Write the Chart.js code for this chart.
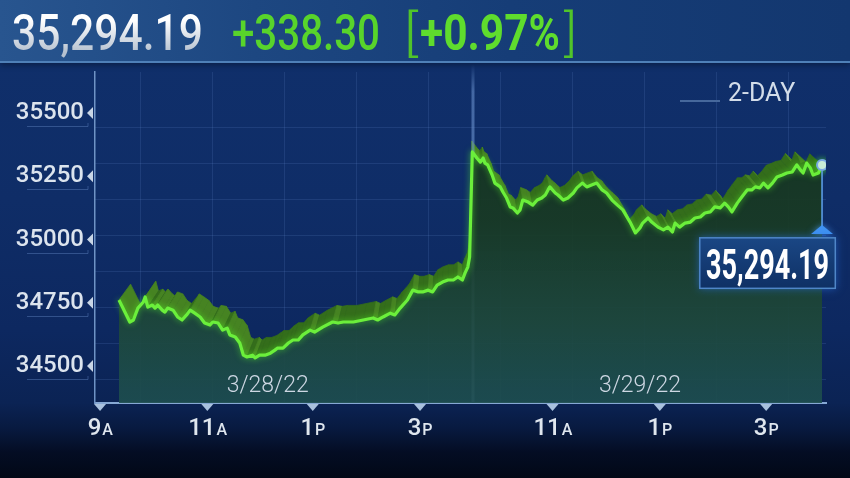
<!DOCTYPE html>
<html><head><meta charset="utf-8">
<script src="https://cdn.jsdelivr.net/npm/chart.js@4.4.1/dist/chart.umd.min.js"></script>
<style>
html,body{margin:0;padding:0;}
body{width:850px;height:478px;overflow:hidden;background:#020816;font-family:Roboto,"Noto Sans",sans-serif;}
#wrap{position:relative;width:850px;height:478px;overflow:hidden;
 background:linear-gradient(180deg,#10306c 0px,#0f2d67 200px,#0d2860 330px,#0b2354 403px,#081a40 428px,#040d24 452px,#020816 478px);}
#c{position:absolute;left:0;top:0;}
#head{position:absolute;left:0;top:0;width:850px;height:61px;z-index:2;
 background:linear-gradient(90deg,#28558f 0%,#1d4781 30%,#163d77 60%,#13376f 100%);
 border-bottom:2px solid #4f80b8;box-shadow:0 2px 6px rgba(0,0,0,0.35);}
.h{position:absolute;top:8px;font-size:50px;line-height:50px;white-space:nowrap;transform-origin:0 0;}
#price{font-weight:500;background:linear-gradient(180deg,#ffffff 25%,#b4c0cf 90%);-webkit-background-clip:text;background-clip:text;color:transparent;}
#chg{font-weight:500;color:#58d42b;}
#pct{font-weight:700;color:#5fdc2d;}
.br{font-weight:300;color:#50c42a;}
#range{position:absolute;left:728px;top:78px;font-size:25px;line-height:30px;color:#d3dde9;z-index:2;white-space:nowrap;}
#rangeLine{position:absolute;left:680px;top:100px;width:40px;height:0;border-top:2px solid #46689c;z-index:2;}
</style></head>
<body>
<div id="wrap">
  <canvas id="c" width="850" height="478"></canvas>
  <div id="head">
    <span class="h" id="price"></span>
    <span class="h" id="chg"></span>
    <span class="h br" id="bl">[</span>
    <span class="h" id="pct"></span>
    <span class="h br" id="brr">]</span>
  </div>
  <div id="rangeLine"></div>
  <div id="range">2-DAY</div>
</div>
<script>
// ---- data (minutes of trading since 3/28/22 09:30; 3/29 session continues after 390) ----
const times1 = [0,12,16,21,27,29,32,37,40,43,48,51,54,60,65,70,75,79,84,90,95,101,104,110,115,120,123,129,134,138,142,148,151,156,162,168,173,176,182,188,193,199,204,212,217,226,237,243,249,260,271,282,287,293,301,306,312,320,326,332,337,343,348,353,359,365,371,376,381,384,387,389];
const values1 = [34761,34674,34682,34729,34753,34773,34733,34741,34729,34741,34721,34713,34729,34721,34694,34682,34702,34721,34709,34694,34670,34662,34674,34670,34642,34650,34623,34615,34591,34543,34536,34543,34532,34543,34543,34551,34563,34571,34571,34591,34603,34603,34623,34642,34634,34654,34674,34670,34674,34674,34682,34690,34682,34694,34709,34702,34729,34761,34800,34793,34793,34800,34793,34820,34832,34840,34840,34852,34840,34868,34891,34931];
const times2 = [392,397,401,404,406,409,414,417,423,426,430,434,437,442,445,448,454,459,464,469,473,476,478,484,487,493,498,504,508,514,519,525,530,536,541,547,553,559,567,573,578,581,587,591,598,604,609,614,617,622,628,634,639,645,650,656,661,667,672,676,680,686,691,697,702,706,711,715,720,725,730,736,741,747,752,756,759,763,767,770,776,780];
const values2 = [35346,35322,35306,35322,35302,35295,35255,35223,35208,35188,35164,35129,35125,35105,35117,35156,35148,35136,35156,35164,35176,35196,35208,35184,35176,35156,35164,35184,35204,35223,35208,35216,35223,35196,35184,35156,35136,35117,35069,35026,35046,35065,35085,35069,35049,35038,35049,35030,35065,35049,35065,35069,35085,35089,35105,35109,35129,35125,35144,35129,35109,35144,35168,35196,35196,35208,35204,35223,35204,35223,35247,35255,35263,35267,35295,35275,35263,35302,35283,35255,35263,35294.19];
const prevClose = 34955.89;
const yTickValues = [34500,34750,35000,35250,35500];
const xTickValues = [-21,98,215,334,481,600,718];
const xTickLabels = ['9A','11A','1P','3P','11A','1P','3P'];
const dateLabels = ['3/28/22','3/29/22'];
const dateLabelAt = [165,578];
const sessionBreak = 392.5;

const points = times1.map((t,i)=>({x:t,y:values1[i]})).concat(times2.map((t,i)=>({x:t,y:values2[i]})));
const lastVal = values2[values2.length-1];
const fmt = v => v.toLocaleString('en-US',{minimumFractionDigits:2,maximumFractionDigits:2});
const change = lastVal - prevClose;
const pct = change/prevClose*100;

// ---- header ----
document.getElementById('price').textContent = fmt(lastVal);
document.getElementById('chg').textContent = (change>=0?'+':'') + fmt(change);
document.getElementById('pct').textContent = (pct>=0?'+':'') + pct.toFixed(2) + '%';
function fit(id,left,width){
  const el=document.getElementById(id);
  el.style.left=left+'px';
  const w=el.getBoundingClientRect().width;
  el.style.transform='scaleX('+(width/w)+')';
}
fit('price',12,191); fit('chg',232,148); fit('bl',404,14); fit('pct',420,140); fit('brr',564,13);

// ---- decorations plugin ----
const deco = {
  id:'deco',
  beforeDraw(chart){
    const {ctx, chartArea:a} = chart;
    ctx.save();
    ctx.strokeStyle='rgba(100,140,205,0.18)'; ctx.lineWidth=1;
    for(let y=a.top+55; y<a.bottom-4; y+=36){ctx.beginPath();ctx.moveTo(a.left,Math.round(y)+0.5);ctx.lineTo(a.right,Math.round(y)+0.5);ctx.stroke();}
    for(let x=a.left+45; x<a.right; x+=72){ctx.beginPath();ctx.moveTo(Math.round(x)+0.5,a.top);ctx.lineTo(Math.round(x)+0.5,a.bottom);ctx.stroke();}
    // 3D ribbon behind line
    const pts = chart.getDatasetMeta(0).data;
    const vx=(a.left+a.right)/2, vy=a.top-239, k=0.034;
    const off = p => ({x:p.x+k*(vx-p.x), y:p.y+k*(vy-p.y)});
    for(let i=0;i<pts.length-1;i++){
      const p=pts[i], q=pts[i+1], p2=off(p), q2=off(q);
      const col = q.y>p.y ? '#468322' : '#346d1b';
      ctx.fillStyle=col; ctx.strokeStyle=col; ctx.lineWidth=0.8;
      ctx.beginPath(); ctx.moveTo(p.x,p.y); ctx.lineTo(q.x,q.y); ctx.lineTo(q2.x,q2.y); ctx.lineTo(p2.x,p2.y); ctx.closePath();
      ctx.fill(); ctx.stroke();
    }
    ctx.restore();
  },
  beforeDatasetsDraw(chart){
    const {ctx, chartArea:a, scales:{x}} = chart;
    const px = Math.round(x.getPixelForValue(sessionBreak));
    ctx.save();
    const g = ctx.createLinearGradient(0,a.top-8,0,a.bottom);
    g.addColorStop(0,'rgba(110,150,210,0)'); g.addColorStop(0.08,'rgba(110,150,210,0.55)'); g.addColorStop(1,'rgba(110,150,210,0.8)');
    ctx.fillStyle=g; ctx.fillRect(px-1.5,a.top-8,3,a.bottom-a.top+8);
    ctx.restore();
  },
  beforeDatasetDraw(chart){
    const ctx=chart.ctx; ctx.save();
    ctx.shadowColor='rgba(90,255,40,0.6)'; ctx.shadowBlur=6;
  },
  afterDatasetDraw(chart){ chart.ctx.restore(); },
  afterDraw(chart){
    const {ctx, chartArea:a, scales:{x,y}} = chart;
    ctx.save();
    // y tick pointers and underlines
    yTickValues.forEach(v=>{
      const py = y.getPixelForValue(v);
      ctx.fillStyle='#c9d6e6';
      ctx.beginPath(); ctx.moveTo(a.left-8,py); ctx.lineTo(a.left-2,py-6); ctx.lineTo(a.left-2,py+6); ctx.closePath(); ctx.fill();
      ctx.strokeStyle='rgba(95,130,190,0.45)'; ctx.lineWidth=1;
      ctx.beginPath(); ctx.moveTo(27,Math.round(py+13)+0.5); ctx.lineTo(a.left-7,Math.round(py+13)+0.5); ctx.lineTo(a.left-7,Math.round(py+10)); ctx.stroke();
    });
    // x tick pointers
    xTickValues.forEach(v=>{
      const px = x.getPixelForValue(v);
      ctx.fillStyle='#a9c1de';
      ctx.beginPath(); ctx.moveTo(px-6,a.bottom+1); ctx.lineTo(px+6,a.bottom+1); ctx.lineTo(px,a.bottom+8); ctx.closePath(); ctx.fill();
    });
    // x tick suffix letters (A / P)
    const items = x.getLabelItems();
    items.forEach((it,i)=>{
      const suf = xTickLabels[i].slice(-1);
      ctx.font = it.font.string; ctx.textBaseline='middle';
      const m = ctx.measureText(it.label);
      const tx = it.options.translation[0], ty = it.options.translation[1] + it.textOffset;
      const bottom = ty + m.actualBoundingBoxDescent;
      ctx.font = '500 16px Roboto'; ctx.textBaseline='alphabetic'; ctx.textAlign='left';
      ctx.fillStyle='#dfe6ee';
      ctx.fillText(suf, tx + m.width/2 + 1, bottom);
    });
    // date labels
    ctx.font='300 23px Roboto'; ctx.fillStyle='#cdd7e3'; ctx.textAlign='center'; ctx.textBaseline='middle';
    dateLabels.forEach((d,i)=>{ ctx.fillText(d, x.getPixelForValue(dateLabelAt[i]), a.bottom-17); });
    // last value marker
    const pts = chart.getDatasetMeta(0).data; const last = pts[pts.length-1];
    const px = last.x, py = last.y;
    ctx.strokeStyle='#5fa2ee'; ctx.lineWidth=1.5;
    ctx.beginPath(); ctx.moveTo(px,py+6); ctx.lineTo(px,py+61); ctx.stroke();
    ctx.fillStyle='#3f92f2'; ctx.shadowColor='rgba(80,160,255,0.7)'; ctx.shadowBlur=6;
    ctx.beginPath(); ctx.moveTo(px,py+60); ctx.lineTo(px+11,py+69); ctx.lineTo(px-11,py+69); ctx.closePath(); ctx.fill();
    const bx=px-123, by=py+72, bw=137, bh=52;
    const bg=ctx.createLinearGradient(0,by,0,by+bh); bg.addColorStop(0,'#1a4785'); bg.addColorStop(1,'#0f3064');
    ctx.fillStyle=bg; ctx.shadowColor='rgba(40,110,220,0.6)'; ctx.shadowBlur=8;
    ctx.fillRect(bx,by,bw,bh); ctx.shadowBlur=0;
    ctx.strokeStyle='#4f86c8'; ctx.lineWidth=1.5; ctx.strokeRect(bx+0.75,by+0.75,bw-1.5,bh-1.5);
    const label = fmt(lastVal);
    ctx.font='bold 42px Roboto'; ctx.textAlign='center'; ctx.textBaseline='alphabetic';
    const tw = ctx.measureText(label).width;
    const tg=ctx.createLinearGradient(0,by+12,0,by+43); tg.addColorStop(0,'#ffffff'); tg.addColorStop(1,'#c2ccd8');
    ctx.fillStyle=tg;
    ctx.translate(bx+bw/2, by+42); ctx.scale(123/tw,1); ctx.fillText(label,0,0);
    ctx.restore();
  }
};

Chart.defaults.font.family = 'Roboto';
const ctx = document.getElementById('c').getContext('2d');
new Chart(ctx,{
  type:'line',
  data:{datasets:[{
    data: points,
    borderColor:'#6bef3b', borderWidth:3.2, tension:0, borderJoinStyle:'round',
    pointRadius: c => c.dataIndex===points.length-1 ? 5 : 0,
    pointBackgroundColor:'#dfeafa', pointBorderColor:'#7aa8e4', pointBorderWidth:2,
    fill:{target:'start'},
    backgroundColor: c => {
      const ch=c.chart, a=ch.chartArea; if(!a) return 'rgba(28,65,45,0.9)';
      const g=ch.ctx.createLinearGradient(0,a.top,0,a.bottom);
      g.addColorStop(0,'rgba(22,50,30,0.96)'); g.addColorStop(0.45,'rgba(25,58,36,0.94)');
      g.addColorStop(0.75,'rgba(30,72,58,0.92)'); g.addColorStop(1,'rgba(30,78,80,0.92)');
      return g;
    }
  }]},
  options:{
    responsive:false, animation:false, devicePixelRatio:1,
    layout:{padding:{left:0,right:24,top:72,bottom:35}},
    plugins:{legend:{display:false},tooltip:{enabled:false}},
    scales:{
      x:{type:'linear',min:-26.6,max:784.4,
        afterBuildTicks:s=>{s.ticks=xTickValues.map(v=>({value:v}));},
        ticks:{callback:(v,i)=>xTickLabels[i].slice(0,-1),color:'#dfe6ee',font:{size:24,weight:'500'},padding:12,labelOffset:-5.5,maxRotation:0,autoSkip:false},
        grid:{display:false,drawTicks:false},
        border:{display:true,color:'#86a8d4',width:2},
        afterFit:s=>{s.height=40;}
      },
      y:{min:34354,max:35662,
        afterBuildTicks:s=>{s.ticks=yTickValues.map(v=>({value:v}));},
        ticks:{callback:v=>String(v),color:'#dce4ee',font:{size:24,weight:'500'},padding:11},
        grid:{display:false,drawTicks:false},
        border:{display:true,color:'#6f93c5',width:1.5},
        afterFit:s=>{s.width=95;}
      }
    }
  },
  plugins:[deco]
});
</script>
</body></html>
